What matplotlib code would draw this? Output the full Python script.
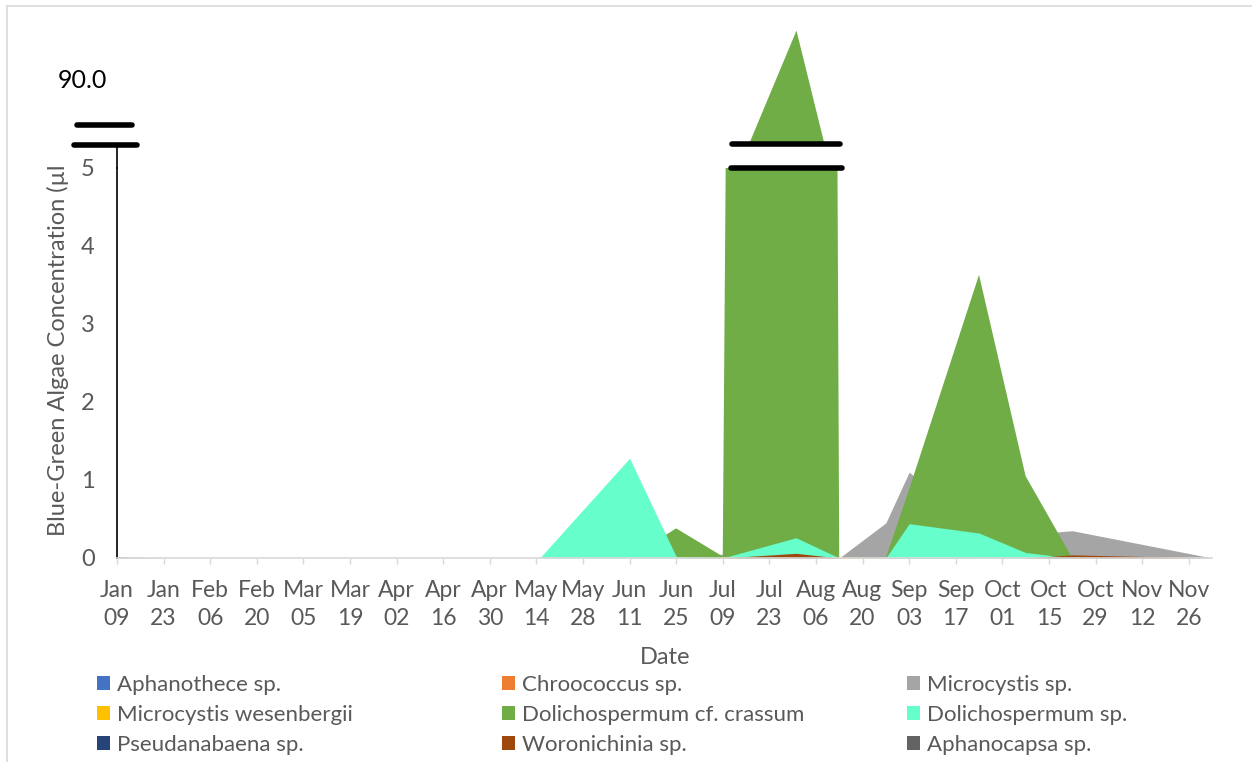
import matplotlib
matplotlib.use("Agg")
import matplotlib.pyplot as plt
import pandas as pd
from matplotlib.patches import Patch
from matplotlib.lines import Line2D

# ---------------- data ----------------
sample_dates = ["2020-01-09", "2020-01-23", "2020-05-15", "2020-06-11", "2020-06-25",
                "2020-07-09", "2020-07-31", "2020-08-13", "2020-08-27", "2020-09-03",
                "2020-09-24", "2020-10-08", "2020-10-22", "2020-12-03"]

aphanothece    = [0, 0, 0, 0, 0, 0, 0, 0, 0, 0.02, 0, 0, 0, 0]
chroococcus    = [0, 0, 0, 0, 0, 0.02, 0, 0, 0, 0, 0, 0, 0, 0]
microcystis    = [0.02, 0, 0, 0, 0, 0.05, 0.2, 0, 0.45, 1.10, 0.4, 0.3, 0.35, 0]
m_wesenbergii  = [0, 0, 0, 0, 0, 0.03, 0, 0.01, 0, 0, 0, 0, 0, 0]
d_crassum      = [0, 0, 0, 0, 0.38, 0.02, 124.0, 0, 0, 0.88, 3.63, 1.05, 0, 0]
d_sp           = [0, 0, 0, 1.28, 0.02, 0, 0.26, 0, 0, 0.44, 0.32, 0.07, 0, 0]
pseudanabaena  = [0, 0, 0, 0, 0, 0, 0, 0, 0, 0, 0, 0, 0, 0]
woronichinia   = [0, 0, 0, 0, 0, 0, 0.06, 0, 0, 0, 0, 0, 0.04, 0]
aphanocapsa    = [0, 0, 0, 0, 0, 0, 0, 0, 0, 0, 0, 0, 0, 0]

series_names = ["Aphanothece sp.", "Chroococcus sp.", "Microcystis sp.",
                "Microcystis wesenbergii", "Dolichospermum cf. crassum", "Dolichospermum sp.",
                "Pseudanabaena sp.", "Woronichinia sp.", "Aphanocapsa sp."]
series_values = [aphanothece, chroococcus, microcystis, m_wesenbergii, d_crassum, d_sp,
                 pseudanabaena, woronichinia, aphanocapsa]
series_colors = ["#4472C4", "#ED7D31", "#A5A5A5", "#FFC000", "#70AD47", "#66FFCC",
                 "#264478", "#9E480E", "#636363"]

tick_dates = pd.date_range("2020-01-09", periods=24, freq="14D")
tick_labels = [f"{d:%b}\n{d:%d}" for d in tick_dates]
y_ticks = [0, 1, 2, 3, 4, 5]
upper_tick = [90.0]

# ---------------- layout ----------------
W, H = 1252, 762
plt.rcParams['font.family'] = ['Lato', 'DejaVu Sans']
grey_txt = "#595959"
light = "#D9D9D9"
FS = 17

def fx(px):
    return px / W

def fy(py):
    return 1 - py / H

fig = plt.figure(figsize=(W / 100, H / 100), dpi=100)
fig.patch.set_facecolor("white")

x = pd.to_datetime(sample_dates)

ax = fig.add_axes([fx(117), fy(558), (1212 - 117) / W, (558 - 168) / H])
axt = fig.add_axes([fx(117), fy(144), (1212 - 117) / W, (144 - 20) / H])

for a in (ax, axt):
    for vals, col in zip(series_values, series_colors):
        a.fill_between(x, 0, vals, color=col, lw=0)
    a.set_xlim(x[0], x[-1])
    a.set_facecolor("none")

# lower axis
ax.set_ylim(0, 5)
ax.set_yticks(y_ticks)
ax.set_yticklabels([str(v) for v in y_ticks])
ax.set_xticks(tick_dates)
ax.set_xticklabels(tick_labels, linespacing=1.45)
ax.tick_params(axis="y", length=0, pad=16, labelsize=FS, labelcolor=grey_txt)
ax.tick_params(axis="x", length=4.5, width=1, color=light, pad=11,
               labelsize=16.5, labelcolor=grey_txt)
for s in ("top", "right"):
    ax.spines[s].set_visible(False)
ax.spines["left"].set_color("black")
ax.spines["left"].set_linewidth(1.2)
ax.spines["bottom"].set_color(light)
ax.spines["bottom"].set_linewidth(1.2)

# upper axis (broken part)
axt.set_ylim(43.4, 131.1)
axt.set_xticks([])
axt.set_yticks(upper_tick)
axt.set_yticklabels([f"{v:.1f}" for v in upper_tick])
axt.tick_params(axis="y", length=0, pad=7, labelsize=18, labelcolor="black")
for s in axt.spines.values():
    s.set_visible(False)

# extension of left axis line and break marks
fig.add_artist(Line2D([fx(117), fx(117)], [fy(168), fy(145)], color="black", lw=1.2))
for (x0, x1, yy) in [(77, 132, 125), (74, 137, 145), (732, 840, 144), (731, 842, 168)]:
    fig.add_artist(Line2D([fx(x0), fx(x1)], [fy(yy), fy(yy)], color="black", lw=4,
                          solid_capstyle="round"))

# chart border
fig.add_artist(Line2D([fx(7), fx(W)], [fy(6), fy(6)], color=light, lw=1.2))
fig.add_artist(Line2D([fx(7), fx(7)], [fy(6), fy(H)], color=light, lw=1.2))

# axis titles
fig.text(fx(665), fy(657), "Date", ha="center", va="center", fontsize=FS, color=grey_txt)
fig.text(fx(58), fy(536), "Blue-Green Algae Concentration (µl", rotation=90,
         ha="center", va="bottom", fontsize=FS, color=grey_txt)

# legend: three columns
handles = [Patch(facecolor=c, edgecolor="none") for c in series_colors]
col_x = [97, 502, 907]
for ci in range(3):
    idx = [ci, ci + 3, ci + 6]
    leg = fig.legend([handles[i] for i in idx], [series_names[i] for i in idx],
                     loc="upper left", bbox_to_anchor=(fx(col_x[ci]), fy(675)),
                     frameon=False, fontsize=16, handlelength=0.58, handleheight=0.62,
                     handletextpad=0.32, labelspacing=0.45, borderpad=0, borderaxespad=0)
    for t in leg.get_texts():
        t.set_color(grey_txt)

fig.savefig("out.png", dpi=100)
